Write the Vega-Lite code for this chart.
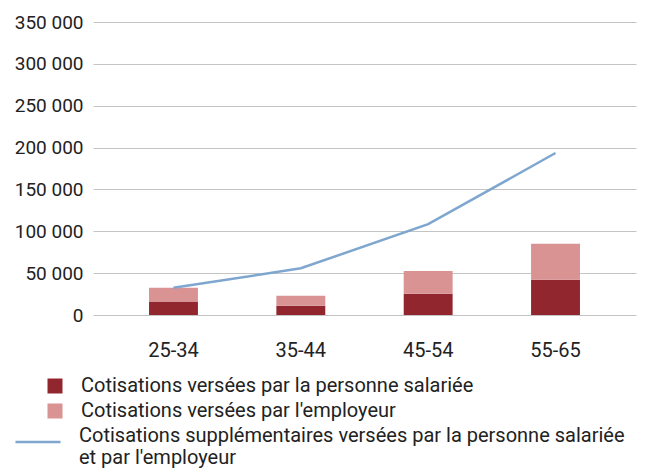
{
  "$schema": "https://vega.github.io/schema/vega-lite/v6.json",
  "width": 543,
  "height": 293,
  "autosize": {"type": "none"},
  "padding": {"left": 93, "top": 22, "right": 10, "bottom": 159},
  "config": {
    "view": {"stroke": null},
    "font": "Roboto",
    "locale": {"number": {"decimal": ",", "thousands": " ", "grouping": [3], "currency": ["", " €"]}}
  },
  "datasets": {
    "bars": [
      {"age": "25-34", "serie": "Cotisations versées par la personne salariée", "value": 16000},
      {"age": "25-34", "serie": "Cotisations versées par l'employeur", "value": 16500},
      {"age": "35-44", "serie": "Cotisations versées par la personne salariée", "value": 11000},
      {"age": "35-44", "serie": "Cotisations versées par l'employeur", "value": 12000},
      {"age": "45-54", "serie": "Cotisations versées par la personne salariée", "value": 25500},
      {"age": "45-54", "serie": "Cotisations versées par l'employeur", "value": 27000},
      {"age": "55-65", "serie": "Cotisations versées par la personne salariée", "value": 42000},
      {"age": "55-65", "serie": "Cotisations versées par l'employeur", "value": 43000}
    ],
    "line": [
      {"age": "25-34", "value": 32500},
      {"age": "35-44", "value": 55800},
      {"age": "45-54", "value": 108500},
      {"age": "55-65", "value": 193500}
    ]
  },
  "layer": [
    {
      "data": {"name": "bars"},
      "mark": {"type": "bar"},
      "encoding": {
        "x": {
          "field": "age", "type": "nominal",
          "scale": {"paddingInner": 0.616, "paddingOuter": 0.44},
          "axis": {"title": null, "labelAngle": 0, "ticks": false, "domain": false, "labelPadding": 25, "labelFontSize": 20, "labelColor": "#222222", "labelFont": "Roboto"}
        },
        "y": {
          "field": "value", "type": "quantitative", "aggregate": "sum", "stack": "zero",
          "scale": {"domain": [0, 350000]},
          "axis": {"title": null, "values": [0, 50000, 100000, 150000, 200000, 250000, 300000, 350000], "format": ",d", "ticks": false, "domain": false, "labelPadding": 10, "labelFontSize": 19, "labelColor": "#222222", "gridColor": "#c4c4c4", "gridWidth": 1.2, "labelFont": "Roboto"}
        },
        "order": {"field": "serie", "sort": "descending"},
        "color": {
          "field": "serie", "type": "nominal",
          "scale": {
            "domain": ["Cotisations versées par la personne salariée", "Cotisations versées par l'employeur"],
            "range": ["#92262e", "#d99393"]
          },
          "legend": {
            "title": null,
            "orient": "none",
            "legendX": -48,
            "legendY": 354,
            "padding": 0,
            "symbolSize": 225,
            "symbolType": "square",
            "labelFontSize": 20,
            "labelFont": "Roboto",
            "labelColor": "#222222",
            "labelOffset": 16,
            "labelLimit": 0,
            "rowPadding": 5
          }
        }
      }
    },
    {
      "data": {"name": "line"},
      "mark": {"type": "line", "strokeWidth": 2.5},
      "encoding": {
        "x": {"field": "age", "type": "nominal"},
        "y": {"field": "value", "type": "quantitative"},
        "stroke": {
          "datum": "Cotisations supplémentaires versées par la personne salariée|et par l'employeur",
          "type": "nominal",
          "scale": {"range": ["#7ea6cf"]},
          "legend": {
            "title": null,
            "orient": "none",
            "legendX": -79,
            "legendY": 396,
            "padding": 0,
            "symbolType": "stroke",
            "symbolSize": 2025,
            "symbolStrokeWidth": 2.5,
            "labelFontSize": 20,
            "labelFont": "Roboto",
            "labelColor": "#222222",
            "labelOffset": 17,
            "labelLimit": 0,
            "labelBaseline": "alphabetic",
            "labelExpr": "split(datum.label, '|')"
          }
        }
      }
    }
  ]
}
